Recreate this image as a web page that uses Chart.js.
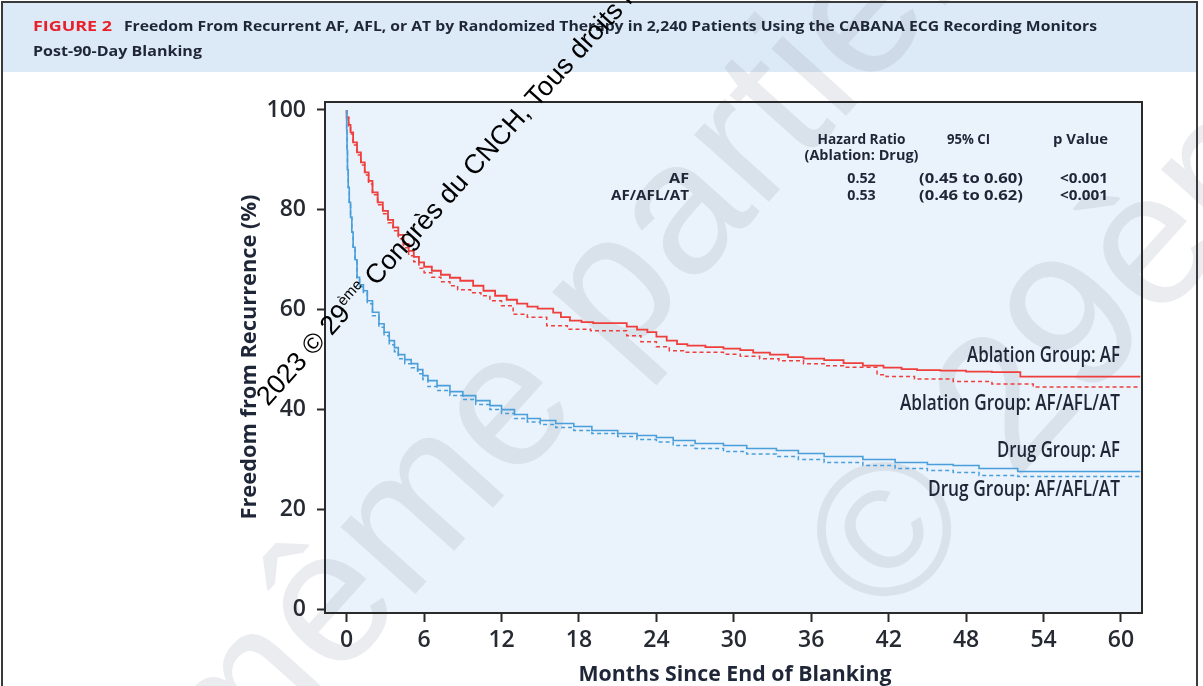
<!DOCTYPE html>
<html><head><meta charset="utf-8">
<script src="https://cdn.jsdelivr.net/npm/chart.js@4.4.0/dist/chart.umd.min.js"></script>
<style>html,body{margin:0;padding:0;background:#fff;overflow:hidden}</style>
</head><body>
<canvas id="c" width="1203" height="686"></canvas>
<script>
// ---- data ----
const xTicks = [0, 6, 12, 18, 24, 30, 36, 42, 48, 54, 60];
const yTicks = [0, 20, 40, 60, 80, 100];

const ablationAfMonths = [0,0.15,0.3,0.5,0.8,1.1,1.4,1.7,2.0,2.4,2.8,3.2,3.6,4.0,4.4,4.8,5.2,5.6,6.0,6.6,7.3,8.0,8.8,9.8,10.6,11.5,12.4,13.2,14.0,14.8,16.0,16.6,17.3,18.2,19.1,21.7,22.5,23.3,24.0,24.8,25.6,26.4,27.8,29.2,30.5,31.5,32.8,34.2,35.4,37.0,38.5,40.0,41.6,43.0,44.2,46.0,48.0,50.0,52.2,53.7,61.5];
const ablationAfValues = [100,98.5,97,95.5,93.5,91.5,89.5,87.5,85.8,83.5,81.5,79.8,78,76.5,75,73.2,71.8,70.6,69.5,68.6,67.8,67,66.4,65.8,64.8,63.8,62.8,62,61.2,60.6,60.2,59.4,58.5,57.8,57.5,57.3,56.6,56,55.5,54.6,53.8,53.1,52.8,52.5,52.2,51.9,51.4,51,50.5,50.2,49.9,49.3,48.8,48.4,48.1,47.9,47.8,47.6,47.5,46.6,46.6];

const ablationAnyMonths = [0,0.15,0.3,0.5,0.8,1.1,1.4,1.7,2.0,2.4,2.8,3.2,3.6,4.0,4.4,4.8,5.2,5.6,6.0,6.6,7.3,8.0,8.6,9.6,10.4,11.1,12.0,12.9,14.0,15.5,17.1,18.9,21.7,22.8,24.0,25.0,26.1,29.2,30.5,32.0,33.5,35.4,37.0,38.5,41.1,41.8,44.0,47.0,50.0,53.2,55.3,61.5];
const ablationAnyValues = [100,98.5,96.8,95.2,93,91,89,87,85.2,83,81,79.2,77.4,75.8,74.2,72.4,70.8,69.6,68.3,67.4,66.5,65.6,64.8,64,63.4,62.8,61.8,60.8,59.1,58.5,56.8,56.1,55.8,54.8,53.6,52.6,51.8,51.5,51.1,50.7,50.2,49.8,49.2,48.8,48.5,47,46.6,46.1,45.6,45.1,44.5,44.5];

const drugMonths = [0,0.03,0.06,0.12,0.2,0.3,0.4,0.5,0.65,0.8,1.0,1.3,1.6,2.0,2.5,2.9,3.3,3.7,4.0,4.5,5.0,5.5,5.9,6.3,7.0,8.0,9.0,10.0,11.1,12.0,13.0,14.0,15.0,16.2,17.6,19.0,21.0,22.5,24.0,25.3,27.0,29.2,31.0,33.3,35.0,37.0,40.0,42.5,45.0,47.0,49.0,52.0,54.2,61.5];
const drugAfValues = [100,96,92,88,84.5,81.5,78.5,75.5,72.5,70,66.5,65,63.8,61.8,59.5,57.2,55.5,53.8,52.4,51,50,49.2,48,46.8,45.8,44.8,43.6,42.8,41.8,40.8,40,39,38.2,37.8,37.2,36.6,35.8,35.2,34.8,34.4,33.8,33.2,32.8,32.2,31.8,31.2,30.6,30,29.4,29,28.8,28.2,27.6,27.6];
const drugAnyValues = [100,96,92,88,84.5,81.5,78.5,75.5,72.3,69.8,66.2,64.6,63.3,61.2,58.8,56.5,54.8,53,51.6,50.2,49.2,48.4,47.2,46,44.6,43.8,42.8,42,41,40,39.2,38.2,37.5,37,36.4,35.8,35.2,34.6,34,33.5,32.8,32.2,31.6,31.1,30.6,30,29.4,28.8,28.2,27.8,27.4,26.8,26.6,26.6];

const seriesNames = ['Ablation Group: AF', 'Ablation Group: AF/AFL/AT', 'Drug Group: AF', 'Drug Group: AF/AFL/AT'];
const tableHeader = ['Hazard Ratio', '(Ablation: Drug)', '95% CI', 'p Value'];
const tableRows = ['AF', 'AF/AFL/AT'];
const tableHR = ['0.52', '0.53'];
const tableCI = ['(0.45 to 0.60)', '(0.46 to 0.62)'];
const tableP = ['<0.001', '<0.001'];

// ---- styles ----
const RED = '#ef3f3d', BLUE = '#4a9fda', AXIS = '#2a2a2a', NAVY = '#1f2637';
const SANS = '"Open Sans", "DejaVu Sans", sans-serif';
const ARIAL = '"Liberation Sans", Arial, sans-serif';

function pts(xs, ys) { return xs.map((x, i) => ({ x: x, y: ys[i] })); }

function fitText(ctx, s, x, y, w, size, weight, color, align) {
  ctx.save();
  ctx.font = weight + ' ' + size + 'px ' + SANS;
  ctx.fillStyle = color;
  ctx.textBaseline = 'middle';
  ctx.textAlign = 'left';
  const m = ctx.measureText(s).width;
  const sx = w ? w / m : 1;
  const ww = m * sx;
  const left = align === 'center' ? x - ww / 2 : (align === 'right' ? x - ww : x);
  ctx.translate(left, y);
  ctx.scale(sx, 1);
  ctx.fillText(s, 0, 0);
  ctx.restore();
}

function paleText(ctx, s, x, y, deg, size) {
  ctx.save();
  ctx.translate(x, y);
  ctx.rotate(deg * Math.PI / 180);
  ctx.font = size + 'px ' + ARIAL;
  ctx.fillStyle = 'rgba(150,160,175,0.2)';
  ctx.textBaseline = 'alphabetic';
  ctx.textAlign = 'left';
  ctx.fillText(s, 0, 0);
  ctx.restore();
}

const decor = {
  id: 'decor',
  beforeDraw(chart) {
    const ctx = chart.ctx, a = chart.chartArea;
    ctx.save();
    ctx.fillStyle = '#ffffff';
    ctx.fillRect(0, 0, chart.width, chart.height);
    ctx.fillStyle = '#dce9f6';
    ctx.fillRect(2, 2, 1195, 70);
    ctx.fillStyle = '#eaf2fb';
    ctx.fillRect(a.left, a.top, a.right - a.left, a.bottom - a.top);
    ctx.restore();
    // faint background watermark
    paleText(ctx, 'm\u00EAme partielle', 230, 800, -48, 190);
    paleText(ctx, '\u00A9 29\u00E8me', 886, 625, -48, 190);
    ctx.save();
    ctx.strokeStyle = '#3a3a3a';
    ctx.lineWidth = 2;
    ctx.beginPath();
    ctx.moveTo(2, 700); ctx.lineTo(2, 2); ctx.lineTo(1197, 2); ctx.lineTo(1197, 700);
    ctx.stroke();
    ctx.restore();
  },
  afterDraw(chart) {
    const ctx = chart.ctx, a = chart.chartArea;
    ctx.save();
    ctx.strokeStyle = AXIS;
    ctx.lineWidth = 2;
    ctx.strokeRect(a.left, a.top, a.right - a.left, a.bottom - a.top);
    ctx.restore();

    // header
    fitText(ctx, 'FIGURE 2', 33, 27, 79, 15, 700, '#e8202a', 'left');
    fitText(ctx, 'Freedom From Recurrent AF, AFL, or AT by Randomized Therapy in 2,240 Patients Using the CABANA ECG Recording Monitors', 124, 27, 973, 15, 700, NAVY, 'left');
    fitText(ctx, 'Post-90-Day Blanking', 33, 52, 169, 15, 700, NAVY, 'left');

    // table
    fitText(ctx, tableHeader[0], 861.5, 140, 88, 15, 700, NAVY, 'center');
    fitText(ctx, tableHeader[1], 861.5, 156, 114, 15, 700, NAVY, 'center');
    fitText(ctx, tableHeader[2], 968.5, 140, 43, 15, 700, NAVY, 'center');
    fitText(ctx, tableHeader[3], 1108, 140, 55, 15, 700, NAVY, 'right');
    const rowY = [179, 196];
    const rowW = [20, 78];
    for (let i = 0; i < 2; i++) {
      fitText(ctx, tableRows[i], 689, rowY[i], rowW[i], 15, 700, NAVY, 'right');
      fitText(ctx, tableHR[i], 861.5, rowY[i], 28.5, 15, 700, NAVY, 'center');
      fitText(ctx, tableCI[i], 971, rowY[i], 104, 15, 700, NAVY, 'center');
      fitText(ctx, tableP[i], 1108, rowY[i], 48, 15, 700, NAVY, 'right');
    }

    // curve labels
    fitText(ctx, seriesNames[0], 1120, 356, 153, 21, 600, NAVY, 'right');
    fitText(ctx, seriesNames[1], 1120, 404, 220, 21, 600, NAVY, 'right');
    fitText(ctx, seriesNames[2], 1120, 451, 123, 21, 600, NAVY, 'right');
    fitText(ctx, seriesNames[3], 1120, 490, 192, 21, 600, NAVY, 'right');

    // axis titles
    fitText(ctx, 'Months Since End of Blanking', 735, 675, 313, 22, 700, NAVY, 'center');
    ctx.save();
    ctx.translate(250, 357);
    ctx.rotate(-Math.PI / 2);
    fitText(ctx, 'Freedom from Recurrence (%)', 0, 0, 325, 22, 700, NAVY, 'center');
    ctx.restore();

    // watermark
    ctx.save();
    ctx.translate(268, 407);
    ctx.rotate(-48 * Math.PI / 180);
    ctx.fillStyle = '#000';
    ctx.textBaseline = 'alphabetic';
    ctx.textAlign = 'left';
    ctx.font = '27px ' + ARIAL;
    let x = 0;
    const p1 = '2023 \u00A9 29';
    ctx.fillText(p1, x, 0); x += ctx.measureText(p1).width;
    ctx.font = '15px ' + ARIAL;
    ctx.fillText('\u00E8me', x, -11); x += ctx.measureText('\u00E8me').width;
    ctx.font = '27px ' + ARIAL;
    ctx.fillText(' Congr\u00E8s du CNCH, Tous droits r\u00E9serv\u00E9s', x, 0);
    ctx.restore();
  }
};

const tickFont = { family: SANS, size: 23, weight: 600 };

new Chart(document.getElementById('c'), {
  type: 'line',
  data: {
    datasets: [
      { label: seriesNames[3], data: pts(drugMonths, drugAnyValues), borderColor: BLUE, borderWidth: 1.5, borderDash: [4, 3], stepped: 'after', pointRadius: 0, fill: false },
      { label: seriesNames[2], data: pts(drugMonths, drugAfValues), borderColor: BLUE, borderWidth: 1.6, stepped: 'after', pointRadius: 0, fill: false },
      { label: seriesNames[1], data: pts(ablationAnyMonths, ablationAnyValues), borderColor: RED, borderWidth: 1.5, borderDash: [4, 3], stepped: 'after', pointRadius: 0, fill: false },
      { label: seriesNames[0], data: pts(ablationAfMonths, ablationAfValues), borderColor: RED, borderWidth: 1.8, stepped: 'after', pointRadius: 0, fill: false }
    ]
  },
  options: {
    responsive: false,
    animation: false,
    devicePixelRatio: 1,
    layout: { padding: { top: 102, right: 61, left: 0, bottom: 0 } },
    plugins: { legend: { display: false }, tooltip: { enabled: false }, title: { display: false } },
    scales: {
      x: {
        type: 'linear', min: -1.68, max: 61.63,
        afterBuildTicks: s => { s.ticks = xTicks.map(v => ({ value: v })); },
        afterFit: s => { s.height = 73; },
        grid: { display: true, drawOnChartArea: false, drawTicks: true, tickLength: 9, tickWidth: 2, tickColor: AXIS },
        border: { display: true, color: AXIS, width: 2 },
        ticks: { font: tickFont, color: '#262a33', padding: 5, maxRotation: 0, autoSkip: false },
        title: { display: false }
      },
      y: {
        type: 'linear', min: -0.74, max: 101.6,
        afterBuildTicks: s => { s.ticks = yTicks.map(v => ({ value: v })); },
        afterFit: s => { s.width = 325; },
        grid: { display: true, drawOnChartArea: false, drawTicks: true, tickLength: 8, tickWidth: 2, tickColor: AXIS },
        border: { display: true, color: AXIS, width: 2 },
        ticks: { font: tickFont, color: '#262a33', padding: 11, autoSkip: false },
        title: { display: false }
      }
    }
  },
  plugins: [decor]
});
</script>
</body></html>
